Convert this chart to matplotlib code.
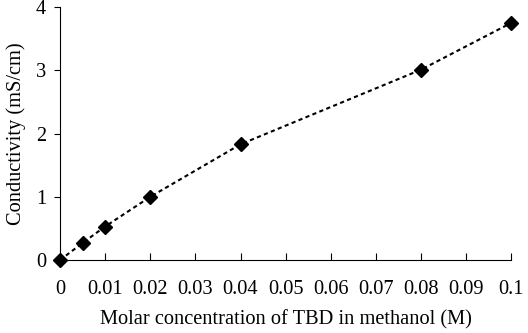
import matplotlib.pyplot as plt

conc = [0, 0.005, 0.01, 0.02, 0.04, 0.08, 0.1]
conductivity = [0, 0.27, 0.53, 1.0, 1.83, 3.01, 3.75]
xticks = [0, 0.01, 0.02, 0.03, 0.04, 0.05, 0.06, 0.07, 0.08, 0.09, 0.1]
xticklabels = ['0', '0.01', '0.02', '0.03', '0.04', '0.05', '0.06', '0.07', '0.08', '0.09', '0.1']
yticks = [0, 1, 2, 3, 4]

plt.rcParams['font.family'] = ['Liberation Serif', 'DejaVu Serif']

fig = plt.figure(figsize=(5.28, 3.33), dpi=100)
ax = fig.add_axes([0.1136, 0.219, 0.855, 0.76])

ax.plot(conc, conductivity, color='black', linestyle=(0, (2, 1.6)), linewidth=1.5,
        marker='D', markersize=7, clip_on=False, zorder=3)

ax.set_xlim(0, 0.1)
ax.set_ylim(0, 4)
ax.set_xticks(xticks)
ax.set_xticklabels(xticklabels)
ax.set_yticks(yticks)
ax.spines['top'].set_visible(False)
ax.spines['right'].set_visible(False)
ax.tick_params(axis='x', direction='in', length=5, labelsize=14.7, pad=14)
ax.tick_params(axis='y', direction='out', length=4, labelsize=14.7, pad=6)
ax.set_xlabel('Molar concentration of TBD in methanol (M)', fontsize=14.7, labelpad=8)
ax.set_ylabel('Conductivity (mS/cm)', fontsize=14.7, labelpad=7)

fig.savefig('out.png', dpi=100)
